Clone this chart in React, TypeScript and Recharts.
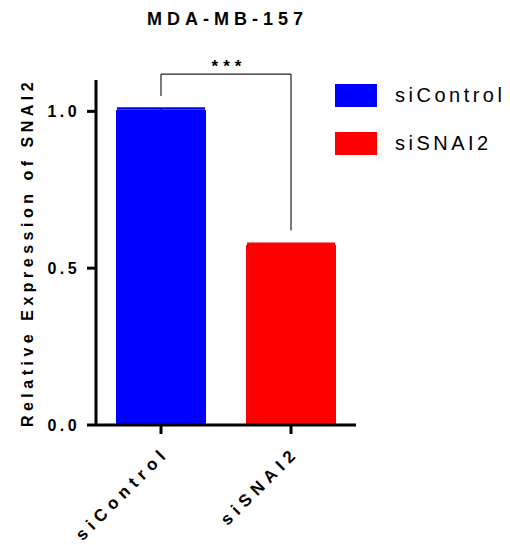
import React from 'react';
import { BarChart, Bar, XAxis, YAxis, ErrorBar, ReferenceLine, Legend, Label } from 'recharts';

const categories = ['siControl', 'siSNAI2'];
const means = [1.004, 0.574];
const sems = [0.005, 0.004];
const colors = ['#0000FF', '#FF0000'];
const yTicks = [0, 0.5, 1.0];
const bracketTop = 1.119;
const bracketLeftBottom = 1.049;
const bracketRightBottom = 0.62;
const title = 'MDA-MB-157';
const yLabel = 'Relative Expression of SNAI2';
const significance = '***';

const FONT = '"Liberation Sans", Arial, sans-serif';

const data = categories.map((name, i) => {
  const row: Record<string, any> = { name };
  row[name] = means[i];
  row[name + 'Err'] = sems[i];
  return row;
});

const XTick = (props: any) => {
  const { x, y, payload } = props;
  return (
    <g transform={`translate(${x},${y})`}>
      <text
        x={0}
        y={0}
        dx={-6}
        dy={19}
        textAnchor="end"
        transform="rotate(-45)"
        fontFamily={FONT}
        fontWeight="bold"
        fontSize={17}
        letterSpacing={5.5}
        fill="#000"
      >
        {payload.value}
      </text>
    </g>
  );
};

const YTick = (props: any) => {
  const { x, y, payload } = props;
  return (
    <text
      x={x - 5}
      y={y}
      dy={6}
      textAnchor="end"
      fontFamily={FONT}
      fontWeight="bold"
      fontSize={16}
      letterSpacing={3.4}
      fill="#000"
    >
      {Number(payload.value).toFixed(1)}
    </text>
  );
};

const YLabelContent = (props: any) => {
  const vb = props.viewBox || {};
  const cx = 19.5;
  const cy = (vb.y ?? 0) + (vb.height ?? 0) / 2;
  return (
    <text
      x={cx}
      y={cy}
      textAnchor="middle"
      dominantBaseline="central"
      transform={`rotate(-90, ${cx}, ${cy})`}
      fontFamily={FONT}
      fontWeight="bold"
      fontSize={16}
      letterSpacing={4.5}
      fill="#000"
    >
      {yLabel}
    </text>
  );
};

const StarsContent = (props: any) => {
  const vb = props.viewBox || {};
  const cx = (vb.x ?? 0) + (vb.width ?? 0) / 2 + 3;
  const cy = (vb.y ?? 0) - 2;
  return (
    <text x={cx} y={cy} textAnchor="middle" fontFamily={FONT} fontWeight="bold" fontSize={17} letterSpacing={5} fill="#000">
      {significance}
    </text>
  );
};

const LegendContent = (props: any) => {
  const payload = props.payload || [];
  return (
    <div style={{ fontFamily: FONT }}>
      {payload.map((p: any, i: number) => (
        <div key={i} style={{ display: 'flex', alignItems: 'center', height: 48 }}>
          <div style={{ width: 42, height: 23, background: p.color }} />
          <span style={{ marginLeft: 18, fontSize: 20, letterSpacing: 3.5, color: '#000' }}>{p.value}</span>
        </div>
      ))}
    </div>
  );
};

export default function App() {
  return (
    <div style={{ position: 'relative', width: 502, height: 537, fontFamily: FONT }}>
      <div
        style={{
          position: 'absolute',
          left: 0,
          top: 0,
          width: 434,
          textAlign: 'center',
          fontWeight: 'bold',
          fontSize: 18,
          letterSpacing: 5,
          paddingLeft: 5,
          boxSizing: 'border-box',
          lineHeight: '22px',
        }}
      >
        {title}
      </div>
      <BarChart
        width={502}
        height={537}
        data={data}
        margin={{ top: 72, right: 154, bottom: 0, left: 0 }}
        barSize={90}
        barGap={-90}
      >
        <XAxis
          dataKey="name"
          height={120}
          axisLine={{ stroke: '#000', strokeWidth: 3 }}
          tickLine={{ stroke: '#000', strokeWidth: 3 }}
          tickSize={9}
          tick={<XTick />}
          interval={0}
        />
        <YAxis
          width={88}
          domain={[0, 1.1]}
          ticks={yTicks}
          axisLine={{ stroke: '#000', strokeWidth: 3 }}
          tickLine={{ stroke: '#000', strokeWidth: 3 }}
          tickSize={9}
          tick={<YTick />}
          allowDataOverflow
        >
          <Label content={<YLabelContent />} />
        </YAxis>
        <Legend
          layout="vertical"
          align="center"
          verticalAlign="middle"
          content={<LegendContent />}
          wrapperStyle={{ left: 327, top: 63, width: 175 }}
        />
        {categories.map((c, i) => (
          <Bar key={c} dataKey={c} name={c} fill={colors[i]} isAnimationActive={false}>
            <ErrorBar dataKey={c + 'Err'} width={44} stroke={colors[i]} strokeWidth={2.5} direction="y" />
          </Bar>
        ))}
        <ReferenceLine
          segment={[{ x: categories[0], y: bracketLeftBottom }, { x: categories[0], y: bracketTop }]}
          stroke="#222"
          strokeWidth={1.2}
          ifOverflow="visible"
        />
        <ReferenceLine
          segment={[{ x: categories[0], y: bracketTop }, { x: categories[1], y: bracketTop }]}
          stroke="#222"
          strokeWidth={1.2}
          ifOverflow="visible"
        >
          <Label content={<StarsContent />} />
        </ReferenceLine>
        <ReferenceLine
          segment={[{ x: categories[1], y: bracketRightBottom }, { x: categories[1], y: bracketTop }]}
          stroke="#222"
          strokeWidth={1.2}
          ifOverflow="visible"
        />
      </BarChart>
    </div>
  );
}
